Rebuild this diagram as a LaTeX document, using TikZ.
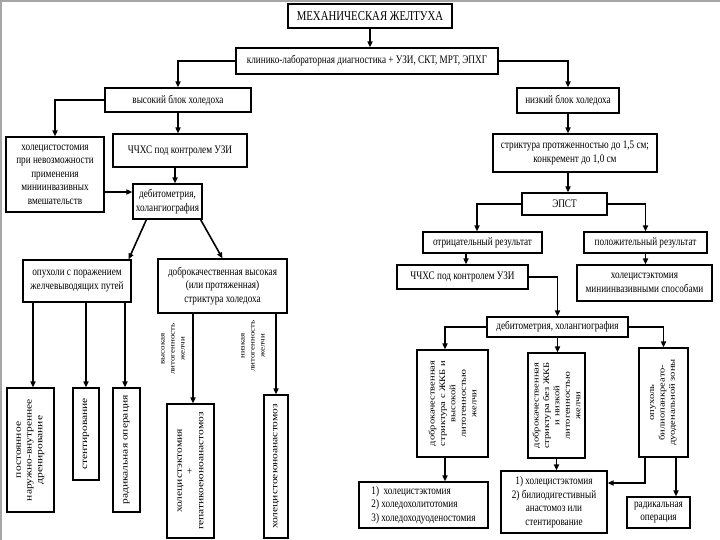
\documentclass[tikz,border=0pt]{standalone}
\usepackage{fontspec}
\setmainfont{Liberation Serif}
\newfontfamily\nf[FakeStretch=0.8]{Liberation Serif}
\usetikzlibrary{arrows.meta,calc}
\begin{document}
\begin{tikzpicture}[x=1pt,y=-1pt,
  box/.style={draw, line width=1.1pt, inner sep=1pt, align=center, font=\nf\fontsize{11.5}{13.5}\selectfont},
  rbox/.style={draw, line width=1.1pt, inner sep=1pt, align=center, rotate=90, yscale=0.8, font=\fontsize{11.5}{13.5}\selectfont},
  rrbox/.style={rbox, font=\fontsize{10.5}{13}\selectfont},
  lbl/.style={inner sep=0pt, align=center, rotate=90, yscale=0.8, font=\fontsize{9}{12.5}\selectfont},
  arr/.style={line width=1.6pt, -{Triangle[length=6pt,width=5pt]}}]
\useasboundingbox (0,0) rectangle (720,540);
\draw[gray!70, line width=1.5pt] (1,540) -- (1,1) -- (720,1);
\coordinate (y192) at (0,192);
\coordinate (y483) at (0,483);
% top
\node[box, font=\nf\fontsize{13.5}{15}\selectfont, minimum width=164pt, minimum height=24pt] (t) at (370,16) {МЕХАНИЧЕСКАЯ ЖЕЛТУХА};
\node[box, minimum width=262pt, minimum height=26pt] (d) at (367,61) {клинико-лабораторная диагностика + УЗИ, СКТ, МРТ, ЭПХГ};
\node[box, minimum width=146pt, minimum height=24pt] (hb) at (178,100) {высокий блок холедоха};
\node[box, minimum width=102pt, minimum height=25pt] (lb) at (568,100.5) {низкий блок холедоха};
% left branch
\node[box, minimum width=98pt, minimum height=75pt] (cs) at (55,174.5) {холецистостомия\\при невозможности\\применения\\миниинвазивных\\вмешательств};
\node[box, minimum width=134pt, minimum height=33pt] (pl) at (180,150.5) {ЧЧХС под контролем УЗИ};
\node[box, minimum width=69pt, minimum height=35pt] (dl) at (167.5,201.5) {дебитометрия,\\холангиография};
\node[box, minimum width=108pt, minimum height=42pt] (tu) at (77,281) {опухоли с поражением\\желчевыводящих путей};
\node[box, minimum width=129pt, minimum height=54pt] (bs) at (222.5,286) {доброкачественная высокая\\(или протяженная)\\стриктура холедоха};
\node[rbox, minimum width=124pt, minimum height=58.75pt] (b1) at (30.5,450) {постоянное\\наружно-внутреннее\\дренирование};
\node[rbox, minimum width=92pt, minimum height=32.5pt] (b2) at (86,434) {стентирование};
\node[rbox, minimum width=124pt, minimum height=33.75pt] (b3) at (126.5,450) {радикальная операция};
\node[rbox, minimum width=134pt, minimum height=58.75pt] (b4) at (190.5,471) {холецистэктомия\\+\\гепатикоеюноанастомоз};
\node[rbox, minimum width=143pt, minimum height=30pt] (b5) at (276,466.5) {холецистоеюноанастомоз};
\node[lbl] (l1) at (173,349) {высокая\\литогенность\\желчи};
\node[lbl] (l2) at (253,346) {низкая\\литогенность\\желчи};
% right branch
\node[box, minimum width=164pt, minimum height=38pt] (r1) at (575,153) {стриктура протяженностью до 1,5 см;\\конкремент до 1,0 см};
\node[box, minimum width=85pt, minimum height=22pt] (r2) at (564.5,204) {ЭПСТ};
\node[box, minimum width=119pt, minimum height=21pt] (r3) at (482.5,242.5) {отрицательный результат};
\node[box, minimum width=123pt, minimum height=21pt] (r4) at (645.5,242.5) {положительный результат};
\node[box, minimum width=131pt, minimum height=24pt] (r5) at (462.5,277) {ЧЧХС под контролем УЗИ};
\node[box, minimum width=135pt, minimum height=36pt] (r6) at (644.5,283) {холецистэктомия\\миниинвазивными способами};
\node[box, minimum width=141pt, minimum height=20pt] (r7) at (557.5,327) {дебитометрия, холангиография};
\node[rrbox, minimum width=107pt, minimum height=88.75pt] (A) at (452.5,403.5) {доброкачественная\\стриктура с ЖКБ и\\высокой\\литогенностью\\желчи};
\node[rrbox, minimum width=105pt, minimum height=71.25pt] (B) at (556.5,405.5) {доброкачественная\\стриктура без ЖКБ\\и низкой\\литогенностью\\желчи};
\node[rrbox, minimum width=109pt, minimum height=61.25pt] (C) at (663.5,402.5) {опухоль\\билиопанкреато-\\дуоденальной зоны};
\node[box, align=left, minimum width=129pt, minimum height=46pt] (D1) at (423.5,505) {1)\ \ холецистэктомия\\2) холедохолитотомия\\3) холедоходуоденостомия};
\node[box, minimum width=106pt, minimum height=62pt] (D2) at (554,502) {1) холецистэктомия\\2) билиодигестивный\\анастомоз или\\стентирование};
\node[box, minimum width=63pt, minimum height=31pt] (D3) at (658.5,512.5) {радикальная\\операция};
% connectors
\draw[arr] (t.south) -- (t.south |- d.north);
\draw[arr] (d.west) -| (hb.north);
\draw[arr] (d.east) -| (lb.north);
\draw[arr] (hb.west) -| (cs.north);
\draw[arr] (hb.south) -- (hb.south |- pl.north);
\draw[arr] ([xshift=-5pt]pl.south) -- ([xshift=-5pt]pl.south |- dl.north);
\draw[arr] (cs.east |- y192) -- (dl.west |- y192);
\draw[arr] ($(dl.south west)+(14,0)$) -- ($(tu.north east)+(-3,0)$);
\draw[arr] ($(dl.south east)+(-2,0)$) -- (bs.north);
\draw[arr] ([xshift=2.5pt]tu.south -| b1) -- ([xshift=2.5pt]b1.east);
\draw[arr] (tu.south -| b2) -- (b2.east);
\draw[arr] ([xshift=-1.5pt]tu.south -| b3) -- ([xshift=-1.5pt]b3.east);
\draw[arr] ([xshift=2.5pt]bs.south -| b4) -- ([xshift=2.5pt]b4.east);
\draw[arr] (bs.south -| b5) -- (b5.east);
\draw[arr] (lb.south) -- (lb.south |- r1.north);
\draw[arr] (lb.south |- r1.south) -- (lb.south |- r2.north);
\draw[arr] (r2.west) -| ([xshift=-5.5pt]r3.north);
\draw[arr] (r2.east) -| (r4.north);
\draw[arr] ([xshift=-16.5pt]r3.south) -- ([xshift=-16.5pt]r3.south |- r5.north);
\draw[arr] (r4.south) -- (r4.south |- r6.north);
\draw[arr] (r5.east) -| (r7.north);
\draw[arr] (r7.west) -| ([xshift=-7.5pt]A.east);
\draw[arr] (r7.south) -- (r7.south |- B.east);
\draw[arr] (r7.east) -| (C.east);
\draw[arr] ([xshift=-7.5pt]A.west) -- ([xshift=-7.5pt]A.west |- D1.north);
\draw[arr] (B.west) -- (B.west |- D2.north);
\draw[arr] ([xshift=-18.5pt]C.west) |- (D2.east |- y483);
\draw[arr] ([xshift=12.5pt]C.west) -- ([xshift=12.5pt]C.west |- D3.north);
\end{tikzpicture}
\end{document}
